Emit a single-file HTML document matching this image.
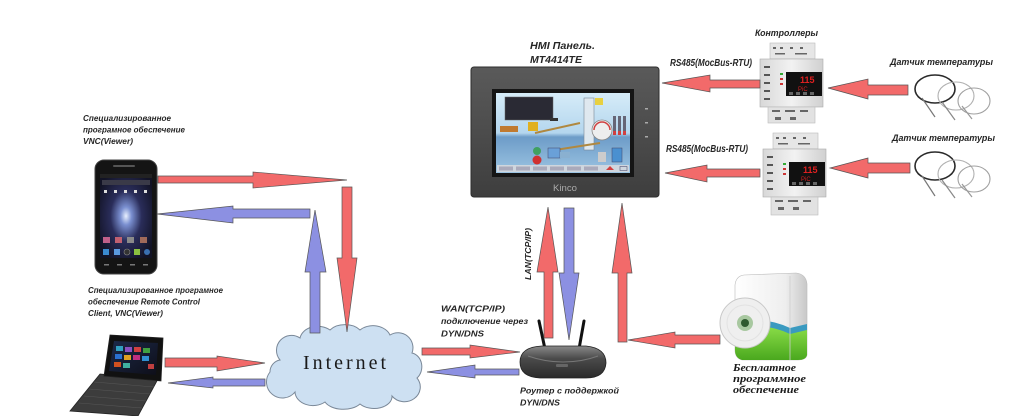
<!DOCTYPE html>
<html><head><meta charset="utf-8">
<style>
html,body{margin:0;padding:0;background:#fff;}
svg{display:block;}
.t{font-family:"Liberation Sans","DejaVu Sans",sans-serif;font-weight:bold;font-style:italic;fill:#262626;}
.s{font-family:"Liberation Serif","DejaVu Serif",serif;font-weight:bold;font-style:italic;fill:#1a1a1a;}
.r{fill:#f26a6a;stroke:#555;stroke-width:0.7;}
.b{fill:#8c90e2;stroke:#555;stroke-width:0.7;}
</style></head>
<body>
<svg width="1023" height="416" viewBox="0 0 1023 416" xmlns="http://www.w3.org/2000/svg">
<defs>
  <radialGradient id="phoneScr" cx="0.5" cy="0.5" r="0.6">
    <stop offset="0" stop-color="#e8f0ff"/>
    <stop offset="0.18" stop-color="#7a8fd0"/>
    <stop offset="0.5" stop-color="#2a2d5a"/>
    <stop offset="1" stop-color="#121325"/>
  </radialGradient>
  <linearGradient id="hmiBody" x1="0" y1="0" x2="0" y2="1">
    <stop offset="0" stop-color="#5a5a5a"/>
    <stop offset="1" stop-color="#3e3e3e"/>
  </linearGradient>
  <linearGradient id="sky" x1="0" y1="0" x2="0" y2="1">
    <stop offset="0" stop-color="#d6ecf8"/>
    <stop offset="0.5" stop-color="#b4d6ee"/>
    <stop offset="0.55" stop-color="#6d9cc8"/>
    <stop offset="1" stop-color="#9cc4e2"/>
  </linearGradient>
  <linearGradient id="router" x1="0" y1="0" x2="0" y2="1">
    <stop offset="0" stop-color="#8a8a8a"/>
    <stop offset="0.4" stop-color="#4a4a4a"/>
    <stop offset="1" stop-color="#2a2a2a"/>
  </linearGradient>
  <linearGradient id="box" x1="0" y1="0" x2="1" y2="0">
    <stop offset="0" stop-color="#ffffff"/>
    <stop offset="0.7" stop-color="#eeeeee"/>
    <stop offset="1" stop-color="#c8c8c8"/>
  </linearGradient>
  <linearGradient id="green" x1="0" y1="0" x2="0" y2="1">
    <stop offset="0" stop-color="#8ee04a"/>
    <stop offset="1" stop-color="#4aa81e"/>
  </linearGradient>
  <linearGradient id="ctrl" x1="0" y1="0" x2="1" y2="0">
    <stop offset="0" stop-color="#d8d8d8"/>
    <stop offset="0.5" stop-color="#f2f2f2"/>
    <stop offset="1" stop-color="#d0d0d0"/>
  </linearGradient>
  <linearGradient id="laptopScr" x1="0" y1="0" x2="1" y2="1">
    <stop offset="0" stop-color="#1c2a4a"/>
    <stop offset="1" stop-color="#0e0e18"/>
  </linearGradient>
</defs>

<!-- ========== TEXTS ========== -->
<text class="t" font-size="8" x="83" y="121" textLength="88" lengthAdjust="spacingAndGlyphs">Специализированное</text>
<text class="t" font-size="8" x="83" y="132.5" textLength="102" lengthAdjust="spacingAndGlyphs">програмное обеспечение</text>
<text class="t" font-size="8" x="83" y="144" textLength="50" lengthAdjust="spacingAndGlyphs">VNC(Viewer)</text>

<text class="t" font-size="8" x="88" y="293" textLength="135" lengthAdjust="spacingAndGlyphs">Специализированное програмное</text>
<text class="t" font-size="8" x="88" y="304.5" textLength="112" lengthAdjust="spacingAndGlyphs">обеспечение Remote Control</text>
<text class="t" font-size="8" x="88" y="316" textLength="75" lengthAdjust="spacingAndGlyphs">Client, VNC(Viewer)</text>

<text class="t" font-size="10" x="530" y="49" textLength="65" lengthAdjust="spacingAndGlyphs">HMI Панель.</text>
<text class="t" font-size="10" x="530" y="63" textLength="52" lengthAdjust="spacingAndGlyphs">MT4414TE</text>

<text class="t" font-size="10" x="670" y="66" textLength="82" lengthAdjust="spacingAndGlyphs">RS485(MocBus-RTU)</text>
<text class="t" font-size="10" x="666" y="152" textLength="82" lengthAdjust="spacingAndGlyphs">RS485(MocBus-RTU)</text>

<text class="t" font-size="9" x="755" y="36" textLength="63" lengthAdjust="spacingAndGlyphs">Контроллеры</text>
<text class="t" font-size="9.5" x="890" y="65" textLength="103" lengthAdjust="spacingAndGlyphs">Датчик температуры</text>
<text class="t" font-size="9.5" x="892" y="141" textLength="103" lengthAdjust="spacingAndGlyphs">Датчик температуры</text>

<text class="t" font-size="8.5" x="441" y="311.5" textLength="64" lengthAdjust="spacingAndGlyphs">WAN(TCP/IP)</text>
<text class="t" font-size="8.5" x="441" y="324" textLength="87" lengthAdjust="spacingAndGlyphs">подключение через</text>
<text class="t" font-size="8.5" x="441" y="336.5" textLength="43" lengthAdjust="spacingAndGlyphs">DYN/DNS</text>

<text class="t" font-size="8.5" x="520" y="393.5" textLength="99" lengthAdjust="spacingAndGlyphs">Роутер с поддержкой</text>
<text class="t" font-size="8.5" x="520" y="405.5" textLength="40" lengthAdjust="spacingAndGlyphs">DYN/DNS</text>

<text class="t" font-size="8.5" x="0" y="0" transform="translate(531,280) rotate(-90)" textLength="52" lengthAdjust="spacingAndGlyphs">LAN(TCP/IP)</text>

<text class="s" font-size="10" x="733" y="371" textLength="63" lengthAdjust="spacingAndGlyphs">Бесплатное</text>
<text class="s" font-size="10" x="733" y="382" textLength="73" lengthAdjust="spacingAndGlyphs">программное</text>
<text class="s" font-size="10" x="733" y="393" textLength="66" lengthAdjust="spacingAndGlyphs">обеспечение</text>

<!-- ========== PHONE ========== -->
<rect x="95" y="160" width="62" height="114" rx="9" fill="#141414" stroke="#444" stroke-width="1"/>
<rect x="113" y="165" width="22" height="2" rx="1" fill="#555"/>
<rect x="100" y="174" width="52" height="84" fill="url(#phoneScr)"/>
<rect x="100" y="174" width="52" height="4" fill="#222"/>
<rect x="102" y="180" width="48" height="5" fill="#3a3a48"/>
<g fill="#ddd">
  <rect x="104" y="190" width="3" height="3"/><rect x="114" y="190" width="3" height="3"/>
  <rect x="124" y="190" width="3" height="3"/><rect x="134" y="190" width="3" height="3"/>
  <rect x="144" y="190" width="3" height="3"/>
</g>
<g>
  <rect x="103" y="237" width="7" height="6" fill="#c0608a"/>
  <rect x="115" y="237" width="7" height="6" fill="#c06070"/>
  <rect x="127" y="237" width="7" height="6" fill="#8a8a8a"/>
  <rect x="140" y="237" width="7" height="6" fill="#a06a5a"/>
  <rect x="103" y="249" width="6" height="6" fill="#3a8ad0"/>
  <rect x="114" y="249" width="6" height="6" fill="#5a9ae0"/>
  <circle cx="127" cy="252" r="3" fill="#333" stroke="#888" stroke-width="0.6"/>
  <rect x="134" y="249" width="6" height="6" fill="#8ac040"/>
  <circle cx="147" cy="252" r="3" fill="#3a70b0"/>
</g>
<g fill="#777"><rect x="104" y="264" width="5" height="1.5"/><rect x="117" y="264" width="5" height="1.5"/><rect x="130" y="264" width="5" height="1.5"/><rect x="143" y="264" width="5" height="1.5"/></g>

<!-- ========== LAPTOP ========== -->
<polygon points="100,374 158,379 138,416 70,411" fill="#3c3c3c" stroke="#222" stroke-width="0.8"/>
<g stroke="#555" stroke-width="0.6">
  <line x1="94" y1="382" x2="154" y2="387"/>
  <line x1="89" y1="389" x2="150" y2="394"/>
  <line x1="84" y1="396" x2="146" y2="401"/>
  <line x1="79" y1="403" x2="142" y2="408"/>
</g>
<polygon points="110,335 163,338 161,381 104,376" fill="#111" stroke="#222" stroke-width="0.8"/>
<polygon points="114,341 158,343 156,375 109,371" fill="url(#laptopScr)"/>
<g>
  <rect x="116" y="346" width="7" height="5" fill="#30a0c0"/>
  <rect x="125" y="347" width="7" height="5" fill="#8a50c0"/>
  <rect x="134" y="347" width="7" height="5" fill="#d04040"/>
  <rect x="143" y="348" width="7" height="5" fill="#40a040"/>
  <rect x="115" y="354" width="7" height="5" fill="#2a70d0"/>
  <rect x="124" y="355" width="7" height="5" fill="#e0a020"/>
  <rect x="133" y="355" width="7" height="5" fill="#c03080"/>
  <rect x="142" y="356" width="7" height="5" fill="#3090d0"/>
  <rect x="114" y="362" width="7" height="5" fill="#d05020"/>
  <rect x="123" y="363" width="7" height="5" fill="#40b0a0"/>
  <rect x="148" y="364" width="6" height="5" fill="#c04040"/>
</g>

<!-- ========== CLOUD ========== -->
<path d="M 280,360 a 15,15 0 0 1 20,-22 a 18,14 0 0 1 30,-8 a 18,12 0 0 1 30,0 a 18,14 0 0 1 30,5 a 15,15 0 0 1 22,18 a 12,14 0 0 1 5,25 a 15,14 0 0 1 -25,18 a 18,12 0 0 1 -32,8 a 20,12 0 0 1 -35,-2 a 18,14 0 0 1 -30,-10 a 15,15 0 0 1 -25,-20 a 12,12 0 0 1 10,-12 Z" fill="#cde0f2" stroke="#7a8898" stroke-width="1"/>
<text x="303" y="369" font-family="'Liberation Serif','DejaVu Serif',serif" font-size="20" fill="#1a1a1a" textLength="83" lengthAdjust="spacing">Internet</text>

<!-- ========== HMI PANEL ========== -->
<rect x="471" y="67" width="188" height="130" rx="3" fill="url(#hmiBody)" stroke="#2e2e2e" stroke-width="1"/>
<rect x="492" y="89" width="142" height="88" fill="#151515"/>
<rect x="496" y="93" width="134" height="80" fill="url(#sky)"/>
<rect x="505" y="97" width="48" height="23" fill="#2a2a34" stroke="#666" stroke-width="0.5"/>
<rect x="550" y="118" width="8" height="3" fill="#333"/>
<rect x="584" y="98" width="10" height="52" fill="#dfe8ef" stroke="#7a8896" stroke-width="0.6"/>
<rect x="595" y="98" width="8" height="7" fill="#e8d040"/>
<circle cx="602" cy="130" r="10" fill="#eee" stroke="#888" stroke-width="0.8"/>
<path d="M 594,130 A 8,8 0 0 1 610,130" fill="none" stroke="#d04040" stroke-width="1.5"/>
<rect x="613" y="116" width="3" height="18" fill="#667"/><rect x="618" y="116" width="3" height="18" fill="#667"/><rect x="623" y="116" width="3" height="18" fill="#667"/>
<rect x="613" y="131" width="3" height="4" fill="#d04040"/><rect x="618" y="131" width="3" height="4" fill="#d04040"/><rect x="623" y="131" width="3" height="4" fill="#d04040"/>
<rect x="500" y="126" width="18" height="6" fill="#c07a30"/>
<rect x="528" y="122" width="10" height="9" fill="#e0b020"/>
<line x1="535" y1="133" x2="580" y2="123" stroke="#b08840" stroke-width="2"/>
<line x1="555" y1="150" x2="600" y2="143" stroke="#b08840" stroke-width="2"/>
<circle cx="537" cy="151" r="4" fill="#40a060"/>
<circle cx="537" cy="160" r="4.5" fill="#d03030"/>
<rect x="548" y="148" width="12" height="10" fill="#6aa0d8" stroke="#446" stroke-width="0.5"/>
<rect x="560" y="152" width="10" height="6" fill="#8ab0d0"/>
<rect x="612" y="148" width="10" height="14" fill="#4a90d0" stroke="#446" stroke-width="0.5"/>
<rect x="598" y="152" width="8" height="10" fill="#ccc"/>
<rect x="497" y="165" width="132" height="7" fill="#cfd6de"/>
<g fill="#aab" >
  <rect x="499" y="166.5" width="14" height="4"/><rect x="516" y="166.5" width="14" height="4"/>
  <rect x="533" y="166.5" width="14" height="4"/><rect x="550" y="166.5" width="14" height="4"/>
  <rect x="567" y="166.5" width="14" height="4"/><rect x="584" y="166.5" width="14" height="4"/>
</g>
<polygon points="606,170 610,166 614,170" fill="#d04040"/>
<rect x="620" y="166.5" width="7" height="4" fill="none" stroke="#557" stroke-width="0.6"/>
<g fill="#aaa"><rect x="645" y="108" width="3" height="1.5"/><rect x="645" y="122" width="3" height="1.5"/><rect x="645" y="136" width="3" height="1.5"/></g>
<text x="565" y="191" text-anchor="middle" font-family="'Liberation Sans',sans-serif" font-size="9" fill="#aaa" textLength="24" lengthAdjust="spacingAndGlyphs">Kinco</text>

<!-- ========== CONTROLLERS ========== -->
<g>
  <rect x="770" y="43" width="45" height="16" fill="#e6e6e6" stroke="#bbb" stroke-width="0.6"/>
  <g fill="#666"><rect x="773" y="47" width="3" height="2"/><rect x="780" y="47" width="3" height="2"/><rect x="790" y="47" width="3" height="2"/><rect x="800" y="47" width="3" height="2"/><rect x="775" y="53" width="10" height="1.5"/><rect x="795" y="53" width="12" height="1.5"/></g>
  <rect x="760" y="59" width="63" height="48" fill="url(#ctrl)" stroke="#aaa" stroke-width="0.6"/>
  <g fill="#555"><rect x="764" y="66" width="6" height="2"/><rect x="764" y="74" width="6" height="2"/><rect x="764" y="82" width="6" height="2"/><rect x="764" y="90" width="6" height="2"/><rect x="764" y="98" width="6" height="2"/></g>
  <rect x="786" y="72" width="36" height="24" fill="#111"/>
  <g fill="#3a3"><rect x="780" y="73" width="3" height="2"/></g>
  <g fill="#c33"><rect x="780" y="78" width="3" height="2"/><rect x="780" y="83" width="3" height="2"/></g>
  <text x="800" y="83" font-family="'Liberation Sans',sans-serif" font-size="9" fill="#e02020" font-weight="bold">115</text>
  <text x="798" y="91" font-family="'Liberation Sans',sans-serif" font-size="6" fill="#d02020">PiC</text>
  <g fill="#666"><rect x="789" y="92" width="4" height="3"/><rect x="796" y="92" width="4" height="3"/><rect x="803" y="92" width="4" height="3"/><rect x="810" y="92" width="4" height="3"/></g>
  <rect x="768" y="107" width="47" height="16" fill="#e2e2e2" stroke="#bbb" stroke-width="0.6"/>
  <g fill="#666"><rect x="772" y="110" width="8" height="2"/><rect x="785" y="110" width="10" height="2"/><rect x="800" y="110" width="8" height="2"/><rect x="775" y="117" width="6" height="3"/><rect x="790" y="117" width="6" height="3"/></g>
</g>
<g transform="translate(3,90)">
  <rect x="770" y="43" width="45" height="16" fill="#e6e6e6" stroke="#bbb" stroke-width="0.6"/>
  <g fill="#666"><rect x="773" y="47" width="3" height="2"/><rect x="780" y="47" width="3" height="2"/><rect x="790" y="47" width="3" height="2"/><rect x="800" y="47" width="3" height="2"/><rect x="775" y="53" width="10" height="1.5"/><rect x="795" y="53" width="12" height="1.5"/></g>
  <rect x="760" y="59" width="63" height="48" fill="url(#ctrl)" stroke="#aaa" stroke-width="0.6"/>
  <g fill="#555"><rect x="764" y="66" width="6" height="2"/><rect x="764" y="74" width="6" height="2"/><rect x="764" y="82" width="6" height="2"/><rect x="764" y="90" width="6" height="2"/><rect x="764" y="98" width="6" height="2"/></g>
  <rect x="786" y="72" width="36" height="24" fill="#111"/>
  <g fill="#3a3"><rect x="780" y="73" width="3" height="2"/></g>
  <g fill="#c33"><rect x="780" y="78" width="3" height="2"/><rect x="780" y="83" width="3" height="2"/></g>
  <text x="800" y="83" font-family="'Liberation Sans',sans-serif" font-size="9" fill="#e02020" font-weight="bold">115</text>
  <text x="798" y="91" font-family="'Liberation Sans',sans-serif" font-size="6" fill="#d02020">PiC</text>
  <g fill="#666"><rect x="789" y="92" width="4" height="3"/><rect x="796" y="92" width="4" height="3"/><rect x="803" y="92" width="4" height="3"/><rect x="810" y="92" width="4" height="3"/></g>
  <rect x="768" y="107" width="47" height="18" fill="#e2e2e2" stroke="#bbb" stroke-width="0.6"/>
  <g fill="#666"><rect x="772" y="110" width="8" height="2"/><rect x="785" y="110" width="10" height="2"/><rect x="800" y="110" width="8" height="2"/><rect x="775" y="117" width="6" height="3"/><rect x="790" y="117" width="6" height="3"/></g>
</g>

<!-- ========== SENSORS ========== -->
<g fill="none">
  <ellipse cx="935" cy="89" rx="20" ry="14" stroke="#2a2a2a" stroke-width="1.6"/>
  <ellipse cx="956" cy="96" rx="18" ry="14" stroke="#b0b0b0" stroke-width="1.1"/>
  <ellipse cx="974" cy="101" rx="16" ry="13" stroke="#a0a0a0" stroke-width="1.1"/>
  <line x1="922" y1="98" x2="935" y2="117" stroke="#777" stroke-width="1.2"/>
  <line x1="942" y1="102" x2="955" y2="120" stroke="#888" stroke-width="1.2"/>
  <line x1="962" y1="106" x2="972" y2="119" stroke="#999" stroke-width="1.2"/>
</g>
<g fill="none">
  <ellipse cx="935" cy="166" rx="20" ry="14" stroke="#2a2a2a" stroke-width="1.6"/>
  <ellipse cx="956" cy="174" rx="18" ry="14" stroke="#b0b0b0" stroke-width="1.1"/>
  <ellipse cx="974" cy="179" rx="16" ry="13" stroke="#a0a0a0" stroke-width="1.1"/>
  <line x1="922" y1="176" x2="935" y2="196" stroke="#777" stroke-width="1.2"/>
  <line x1="942" y1="180" x2="955" y2="198" stroke="#888" stroke-width="1.2"/>
  <line x1="962" y1="184" x2="972" y2="197" stroke="#999" stroke-width="1.2"/>
</g>

<!-- ========== ROUTER ========== -->
<line x1="545" y1="349" x2="539" y2="321" stroke="#111" stroke-width="3" stroke-linecap="round"/>
<line x1="579" y1="349" x2="584" y2="321" stroke="#111" stroke-width="3" stroke-linecap="round"/>
<path d="M 520,362 Q 520,347 542,346 L 586,346 Q 606,348 606,363 Q 605,378 586,378 L 540,378 Q 520,377 520,362 Z" fill="url(#router)" stroke="#222" stroke-width="0.8"/>
<path d="M 528,356 Q 545,362 563,362 Q 582,362 598,356" fill="none" stroke="#777" stroke-width="1"/>
<rect x="556" y="364" width="12" height="3" rx="1" fill="#666"/>

<!-- ========== SOFTWARE BOX ========== -->
<path d="M 744,275 L 796,273 Q 806,274 807,284 L 807,355 Q 806,360 798,360 L 742,360 Q 735,358 735,350 L 735,285 Q 736,276 744,275 Z" fill="url(#box)" stroke="#bbb" stroke-width="0.6"/>
<path d="M 735,330 Q 760,318 790,332 L 807,328 L 807,355 Q 806,360 798,360 L 742,360 Q 735,358 735,350 Z" fill="url(#green)"/>
<path d="M 735,326 Q 760,314 790,328 L 807,324 L 807,330 L 790,334 Q 760,320 735,332 Z" fill="#3a9ac0"/>
<line x1="790" y1="276" x2="790" y2="360" stroke="#ccc" stroke-width="0.8"/>
<circle cx="745" cy="323" r="25" fill="#efefef" stroke="#c8c8c8" stroke-width="1"/>
<circle cx="745" cy="323" r="18" fill="none" stroke="#e2e2e2" stroke-width="1"/>
<circle cx="745" cy="323" r="8" fill="#a8c8a0"/>
<circle cx="745" cy="323" r="4" fill="#2e5a2e"/>

<!-- ========== ARROWS ========== -->
<polygon class="r" points="158,176 253,176 253,172 347,180 253,188 253,183 158,183"/>
<polygon class="b" points="310,209 233,209 233,206 157,214 233,223 233,218 310,218"/>
<polygon class="r" points="342,187 352,187 352,258 357,258 347,332 337,258 342,258"/>
<polygon class="b" points="310,333 320,333 320,272 326,272 315,210 305,272 310,272"/>
<polygon class="r" points="165,358 217,358 217,356 265,363 217,371 217,367 165,367"/>
<polygon class="b" points="265,379 213,379 213,377 168,383 213,388 213,386 265,386"/>
<polygon class="r" points="422,348 470,348 470,345 520,352 470,358 470,355 422,355"/>
<polygon class="b" points="519,369 475,369 475,365 427,372 475,378 475,375 519,375"/>
<polygon class="r" points="544,338 553,338 553,272 558,272 548,207 537,272 544,272"/>
<polygon class="b" points="564,208 574,208 574,273 579,273 569,340 559,273 564,273"/>
<polygon class="r" points="618,342 627,342 627,273 632,273 622,203 612,273 618,273"/>
<polygon class="r" points="720,335 675,335 675,332 628,340 675,348 675,344 720,344"/>
<polygon class="r" points="760,80 710,80 710,75 662,83 710,92 710,88 760,88"/>
<polygon class="r" points="760,169 707,169 707,165 665,173 707,182 707,177 760,177"/>
<polygon class="r" points="908,85 868,85 868,79 828,88 868,99 868,95 908,95"/>
<polygon class="r" points="910,163 868,163 868,158 830,168 868,178 868,173 910,173"/>
</svg>
</body></html>
